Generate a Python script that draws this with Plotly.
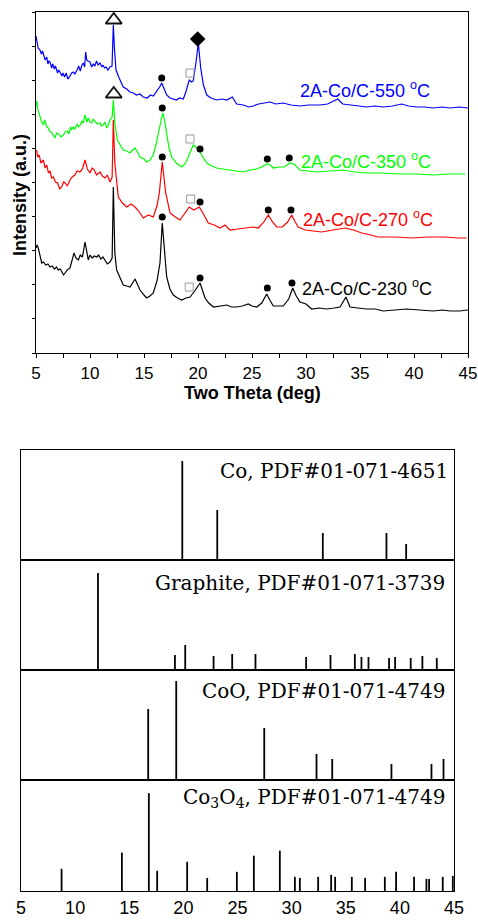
import plotly.graph_objects as go

# ---------------- Top panel: XRD patterns (two theta in deg, intensity in a.u.) -------------
tt_550 = [5.0, 5.1, 5.2, 5.37, 5.5, 5.6, 5.75, 5.85, 6.0, 6.1, 6.2, 6.3, 6.45, 6.55, 6.7, 6.8, 7.0, 7.1, 7.22,
          7.4, 7.5, 7.65, 7.8, 7.95, 8.1, 8.3, 8.45, 8.6, 8.8, 8.95, 9.1, 9.25, 9.38, 9.5, 9.6, 9.7, 9.8,
          10.0, 10.15, 10.3, 10.45, 10.6, 10.75, 10.93, 11.1, 11.2, 11.35, 11.5, 11.65, 11.85, 12.04, 12.16, 12.27,
          12.41, 12.7, 13.08, 13.4, 13.7, 14.01,
          14.3, 14.6, 14.94, 15.3, 15.6, 15.86, 16.2, 16.45, 16.64, 16.85, 17.1, 17.4, 17.71, 18.0, 18.3, 18.64,
          18.9, 19.19, 19.4, 19.56, 19.81, 20.03, 20.25, 20.5, 20.81, 21.2, 21.73, 22.2, 22.66, 23.0, 23.18, 23.58,
          24.2, 24.7, 25.12, 25.6, 26.1, 26.67, 27.2, 27.9, 28.6, 29.44, 30.2, 31.3, 32.0, 32.6, 32.94, 33.4,
          34.07, 34.8, 35.62, 36.4, 37.16, 38.0, 38.86, 39.5, 40.25, 41.0, 41.79, 42.6, 43.33, 44.2, 45.0]
int_550 = [317, 310, 305, 303, 299, 302, 295, 293, 296, 289, 292, 291, 285, 289, 284, 287, 280, 283, 281,
           277, 280, 276, 280, 274, 276, 280, 281, 279, 283, 287, 282, 288, 290, 286, 301, 293, 292,
           291, 286, 289, 287, 292, 288, 290, 286, 288, 285, 286, 283, 286, 287, 328, 303,
           283, 275, 266, 264, 261, 260,
           258, 259, 256, 255, 258, 257, 262, 266, 270, 264, 258, 255, 254, 253, 255, 254,
           262, 273, 271, 272, 290, 310, 285, 268, 258, 255, 253, 254, 253, 255, 256, 249,
           248, 246, 247, 249, 250, 251, 249, 250, 248, 247, 248, 248, 249, 252, 254, 249,
           248, 247, 246, 247, 246, 247, 249, 247, 246, 246, 245, 246, 245, 246, 245]

tt_350 = [5.0, 5.08, 5.15, 5.25, 5.35, 5.5, 5.68, 5.8, 5.9, 6.0, 6.14, 6.25, 6.4, 6.55, 6.76, 6.9, 7.1, 7.3, 7.53,
          7.7, 7.9, 8.05, 8.2, 8.3, 8.45, 8.6, 8.8, 8.95, 9.1, 9.25, 9.38, 9.54, 9.7, 9.84,
          10.0, 10.16, 10.3, 10.5, 10.7, 10.93, 11.05, 11.2, 11.4, 11.55, 11.7, 11.85, 12.05, 12.16, 12.3, 12.53,
          12.8, 13.08, 13.4, 13.7, 13.95, 14.17,
          14.4, 14.63, 15.0, 15.25, 15.55, 15.86, 16.1, 16.32, 16.55, 16.73, 16.9, 17.1, 17.3, 17.56, 18.0, 18.49,
          18.8, 19.1, 19.35, 19.56, 19.8, 20.19, 20.5, 20.81, 21.3, 21.73, 22.3, 22.96, 23.6, 24.19, 24.81,
          25.4, 25.9, 26.36, 26.7, 26.97, 27.5, 28.0, 28.52, 28.9, 29.44, 30.2, 30.99, 32.2, 33.45, 34.5,
          35.62, 37.0, 38.7, 40.2, 41.79, 43.2, 44.72]
int_350 = [247, 252, 244, 240, 236, 232, 228, 233, 230, 226, 225, 222, 221, 218, 215, 220, 219, 216, 218,
           221, 222, 219, 226, 223, 226, 224, 229, 226, 228, 232, 230, 238, 231, 235,
           231, 230, 234, 231, 229, 230, 227, 228, 231, 225, 228, 233, 236, 253, 230, 213,
           208, 203, 202, 200, 203, 205,
           201, 196, 194, 191, 193, 198, 208, 220, 234, 240, 233, 220, 206, 196, 190, 186,
           189, 196, 203, 208, 206, 201, 195, 190, 187, 185, 184, 183, 182, 181, 183,
           184, 186, 189, 188, 185, 186, 186, 190, 189, 183, 182, 181, 182, 183, 181,
           180, 180, 179, 179, 178, 179, 179]

tt_270 = [5.06, 5.15, 5.3, 5.45, 5.68, 5.85, 6.0, 6.15, 6.3, 6.45, 6.6, 6.8, 7.0, 7.2, 7.38, 7.55, 7.7, 7.9,
          8.15, 8.35, 8.6, 8.8, 9.07, 9.3, 9.54, 9.75, 10.0, 10.2, 10.4, 10.6, 10.93, 11.15,
          11.4, 11.6, 11.85, 12.05, 12.16, 12.3, 12.62, 13.0, 13.4, 13.8, 14.17, 14.5, 14.94, 15.4, 15.86, 16.2, 16.42,
          16.69, 17.01, 17.41, 17.9, 18.33, 18.8, 19.19, 19.6, 20.12, 20.5, 20.95, 21.5, 22.04, 22.5, 22.96,
          23.7, 24.51, 25.1, 25.58, 26.1, 26.51, 26.9, 27.29, 27.8, 28.3, 28.68, 29.0, 29.29, 29.91, 30.6,
          31.45, 32.5, 33.61, 34.4, 35.16, 36.0, 36.69, 38.2, 39.79, 41.3, 42.87, 44.0, 44.88]
int_270 = [203, 196, 198, 190, 193, 185, 188, 180, 182, 175, 176, 171, 170, 164, 166, 171, 170, 167,
           173, 176, 178, 182, 181, 184, 193, 184, 180, 185, 183, 178, 181, 177,
           175, 178, 171, 176, 233, 190, 156, 150, 146, 149, 146, 142, 135, 138, 136, 147, 160,
           191, 160, 140, 136, 133, 140, 146, 143, 146, 139, 130, 128, 125, 128, 123,
           124, 125, 126, 125, 131, 138, 131, 126, 126, 131, 138, 131, 126, 123, 122,
           121, 123, 125, 123, 120, 118, 116, 116, 115, 116, 116, 115, 115]

tt_230 = [5.0, 5.1, 5.21, 5.35, 5.53, 5.7, 5.9, 6.1, 6.3, 6.5, 6.7, 6.9, 7.06, 7.25, 7.4, 7.55, 7.69, 7.9,
          8.15, 8.35, 8.52, 8.7, 8.92, 9.1, 9.3, 9.54, 9.84, 10.0, 10.2, 10.4, 10.62, 10.8, 11.0,
          11.2, 11.39, 11.6, 11.85, 12.05, 12.16, 12.3, 12.47, 12.8, 13.08, 13.4, 13.7, 14.17, 14.63, 15.0, 15.25, 15.55,
          15.86, 16.2, 16.48, 16.69, 16.9, 17.1, 17.4, 17.71, 18.1, 18.49, 18.9, 19.26, 19.7, 20.19, 20.65,
          21.0, 21.42, 22.0, 22.66, 23.1, 23.58, 24.1, 24.66, 25.0, 25.44, 25.9, 26.36, 26.7, 26.97, 27.4,
          27.9, 28.4, 28.77, 29.1, 29.44, 30.0, 30.53, 31.2, 31.92, 32.6, 33.15, 33.7, 34.07, 34.8, 35.62,
          36.4, 37.16, 38.2, 39.32, 40.5, 41.79, 42.6, 43.33, 44.2, 45.0]
int_230 = [105, 108, 105, 97, 90, 91, 88, 89, 86, 87, 84, 86, 83, 84, 81, 78, 80, 83,
           85, 92, 100, 95, 93, 98, 96, 111, 93, 98, 95, 97, 96, 98, 94,
           96, 93, 89, 91, 95, 166, 100, 83, 75, 68, 67, 66, 74, 63, 58, 55, 57,
           60, 72, 90, 130, 100, 76, 64, 58, 55, 53, 55, 56, 62, 70, 55,
           50, 46, 47, 48, 46, 46, 47, 49, 47, 46, 50, 59, 52, 47, 47,
           47, 54, 65, 57, 51, 49, 44, 45, 44, 45, 46, 56, 46, 45, 44,
           44, 42, 43, 44, 43, 42, 43, 42, 42, 43]

# Phase markers (two theta, intensity)
tri_tt = [12.2, 12.2]
tri_int = [333, 259]
dia_tt = [19.97]
dia_int = [314]
dot_tt = [16.64, 16.69, 20.19, 26.42, 28.45, 16.69, 20.19, 26.51, 28.61, 16.69, 20.19, 26.42, 28.70]
dot_int = [275, 245, 204, 194, 195, 196, 151, 143, 143, 136, 75, 65, 70]
sq_tt = [19.26, 19.26, 19.32, 19.19]
sq_int = [280, 214, 154, 66]

series_names = ["2A-Co/C-550 <sup>o</sup>C", "2A-Co/C-350 <sup>o</sup>C",
                "2A-Co/C-270 <sup>o</sup>C", "2A-Co/C-230 <sup>o</sup>C"]
series_colors = ["#0000ff", "#00ff00", "#ff0000", "#000000"]
label_tt = [29.3, 29.35, 29.5, 29.4]
label_int = [264, 193, 135, 66]

# ---------------- Bottom panels: reference stick patterns ----------------
co_tt = [19.9, 23.13, 32.88, 38.76, 40.58]
co_i = [99, 50, 27, 27, 16]
gr_tt = [12.11, 19.22, 20.17, 22.79, 24.51, 26.66, 31.34, 33.59, 35.84, 36.45, 37.1, 39.0, 39.56, 41.0,
         42.08, 43.41]
gr_i = [97, 15, 25, 14, 16, 16, 13, 15, 16, 13, 13, 12, 13, 12, 14, 12]
coo_tt = [16.75, 19.34, 27.47, 32.3, 33.75, 39.22, 42.92, 44.03]
coo_i = [71, 99, 52, 26, 21, 16, 16, 21]
co3o4_tt = [8.75, 14.32, 16.81, 17.58, 20.35, 22.2, 24.94, 26.51, 28.91, 30.3, 30.76, 32.45, 33.65, 34.02,
            35.56, 36.79, 38.61, 39.65, 41.31, 42.45, 42.7, 43.96, 44.89]
co3o4_i = [22, 38, 97, 20, 29, 13, 19, 35, 40, 14, 13, 14, 16, 14, 14, 13, 14, 19, 14, 12, 12, 14, 15]

ref_labels = ["Co, PDF#01-071-4651", "Graphite, PDF#01-071-3739", "CoO, PDF#01-071-4749",
              "Co<sub>3</sub>O<sub>4</sub>, PDF#01-071-4749"]
ref_tt = [co_tt, gr_tt, coo_tt, co3o4_tt]
ref_i = [co_i, gr_i, coo_i, co3o4_i]

W, H = 478, 920
SANS = "Arial, Liberation Sans, sans-serif"
SERIF = "DejaVu Serif, serif"

fig = go.Figure()

# top curves
for tt, inten, col in [(tt_550, int_550, series_colors[0]), (tt_350, int_350, series_colors[1]),
                       (tt_270, int_270, series_colors[2]), (tt_230, int_230, series_colors[3])]:
    fig.add_trace(go.Scatter(x=tt, y=inten, mode="lines", line=dict(color=col, width=1.2),
                             xaxis="x", yaxis="y", showlegend=False, hoverinfo="skip"))

fig.add_trace(go.Scatter(x=tri_tt, y=tri_int, mode="markers", xaxis="x", yaxis="y", showlegend=False,
                         marker=dict(symbol="triangle-up-open", size=14, color="#111", line=dict(width=1.8))))
fig.add_trace(go.Scatter(x=dia_tt, y=dia_int, mode="markers", xaxis="x", yaxis="y", showlegend=False,
                         marker=dict(symbol="diamond", size=12, color="#000")))
fig.add_trace(go.Scatter(x=dot_tt, y=dot_int, mode="markers", xaxis="x", yaxis="y", showlegend=False,
                         marker=dict(symbol="circle", size=7, color="#000")))
fig.add_trace(go.Scatter(x=sq_tt, y=sq_int, mode="markers", xaxis="x", yaxis="y", showlegend=False,
                         marker=dict(symbol="square-open", size=8, color="#999", line=dict(width=1))))

for name, col, lx, ly in zip(series_names, series_colors, label_tt, label_int):
    fig.add_annotation(x=lx, y=ly, xref="x", yref="y", text=name, showarrow=False, xanchor="left",
                       yanchor="middle", font=dict(family=SANS, size=18, color=col))

# bottom sticks
for k, (tt, ii) in enumerate(zip(ref_tt, ref_i)):
    xs, ys = [], []
    for a, b in zip(tt, ii):
        xs += [a, a, None]
        ys += [0, b, None]
    n = k + 2
    fig.add_trace(go.Scatter(x=xs, y=ys, mode="lines", line=dict(color="#000", width=1.8),
                             xaxis=f"x{n}", yaxis=f"y{n}", showlegend=False, hoverinfo="skip"))

# layout
def px_x(p):
    return p / W

def px_y(p):
    return 1 - p / H

axis_line = dict(showline=True, linecolor="#000", linewidth=1.3, mirror=True, showgrid=False, zeroline=False)

layout = dict(
    width=W, height=H, autosize=False, margin=dict(l=0, r=0, t=0, b=0, autoexpand=False),
    paper_bgcolor="white", plot_bgcolor="white", showlegend=False,
    xaxis=dict(domain=[px_x(36), px_x(468)], anchor="y", range=[5, 45], tick0=5, dtick=5,
               ticks="outside", ticklen=4, tickwidth=1.2, tickcolor="#000",
               minor=dict(dtick=2.5, ticks="outside", ticklen=4, tickwidth=1.2, tickcolor="#000"),
               tickfont=dict(family=SANS, size=17, color="#000"), **axis_line),
    yaxis=dict(domain=[px_y(353), px_y(12)], anchor="x", range=[0, 341], tick0=0, dtick=34.1,
               ticks="outside", ticklen=3, tickwidth=1.2, tickcolor="#000", showticklabels=False, **axis_line),
)
bounds = [450, 560, 670, 780, 891]
for k in range(4):
    n = k + 2
    last = (k == 3)
    layout[f"xaxis{n}"] = dict(domain=[px_x(21), px_x(454)], anchor=f"y{n}", range=[5, 45], tick0=5, dtick=5,
                               ticks="", showticklabels=last,
                               tickfont=dict(family=SANS, size=18, color="#000"), **axis_line)
    layout[f"yaxis{n}"] = dict(domain=[px_y(bounds[k + 1]), px_y(bounds[k])], anchor=f"x{n}", range=[0, 110],
                               ticks="", showticklabels=False, **axis_line)
fig.update_layout(**layout)

# axis titles
fig.add_annotation(x=px_x(252), y=px_y(393), xref="paper", yref="paper", text="<b>Two Theta (deg)</b>",
                   showarrow=False, xanchor="center", yanchor="middle",
                   font=dict(family=SANS, size=18, color="#000"))
fig.add_annotation(x=px_x(20), y=px_y(195), xref="paper", yref="paper", text="<b>Intensity (a.u.)</b>",
                   showarrow=False, textangle=-90, xanchor="center", yanchor="middle",
                   font=dict(family=SANS, size=18, color="#000"))

# reference labels
label_y = [470.7, 583.3, 690.7, 798.3]
label_right = [450, 447, 447, 447]
for txt, ly, rx in zip(ref_labels, label_y, label_right):
    fig.add_annotation(x=px_x(rx), y=px_y(ly), xref="paper", yref="paper", text=txt, showarrow=False,
                       xanchor="right", yanchor="middle", font=dict(family=SERIF, size=20, color="#000"))

fig.write_html("out.html")
